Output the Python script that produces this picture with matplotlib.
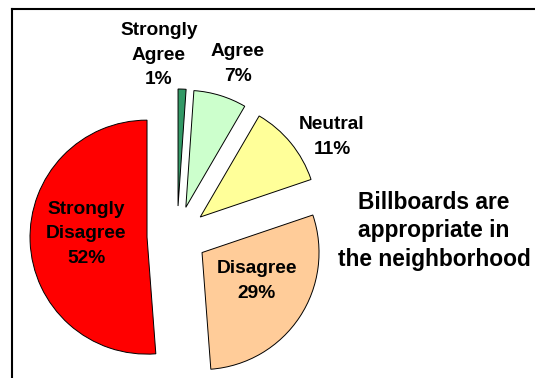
import matplotlib
matplotlib.use("Agg")
import matplotlib.pyplot as plt
from matplotlib.lines import Line2D

categories = ["Strongly\nAgree", "Agree", "Neutral", "Disagree", "Strongly\nDisagree"]
percents = [1, 7, 11, 29, 52]              # printed labels
shares = [1.1, 7.3, 11.4, 29.0, 51.2]      # wedge sizes as drawn
colors = ["#339966", "#CCFFCC", "#FFFF99", "#FFCC99", "#FF0000"]
explode = [30, 30, 30, 30, 30]  # pixels
title = "Billboards are\nappropriate in\nthe neighborhood"

W, H = 535, 378
fig = plt.figure(figsize=(W / 100, H / 100), dpi=100)
ax = fig.add_axes([0, 0, 1, 1])

radius = 117
# pie offsets wedges by explode in data units
ax.pie(shares, explode=explode, colors=colors,
       center=(177, H - 236), radius=radius, startangle=90, counterclock=False,
       wedgeprops=dict(edgecolor="black", linewidth=0.7))

ax.set_xlim(0, W)
ax.set_ylim(0, H)
ax.set_aspect("equal")
ax.axis("off")

font = dict(family="Liberation Sans", weight="bold", ha="center", va="center")
# label positions in image pixels
label_pos = [(159, 55), (238, 64), (332, 137), (257, 281), (86, 234)]
for cat, val, (x, y) in zip(categories, percents, label_pos):
    ax.text(x, H - y, f"{cat}\n{val}%", fontsize=13.8, linespacing=1.58, **font)

ax.text(434, H - 231, title, fontsize=16.4, linespacing=1.32, **font)

# frame: only top and left edges are visible
fig.add_artist(Line2D([12 / W, 1.1], [1 - 9 / H, 1 - 9 / H], transform=fig.transFigure,
                      color="black", linewidth=1.5))
fig.add_artist(Line2D([12 / W, 12 / W], [1 - 9 / H, -0.1], transform=fig.transFigure,
                      color="black", linewidth=1.5))

fig.savefig("out.png", dpi=100)
